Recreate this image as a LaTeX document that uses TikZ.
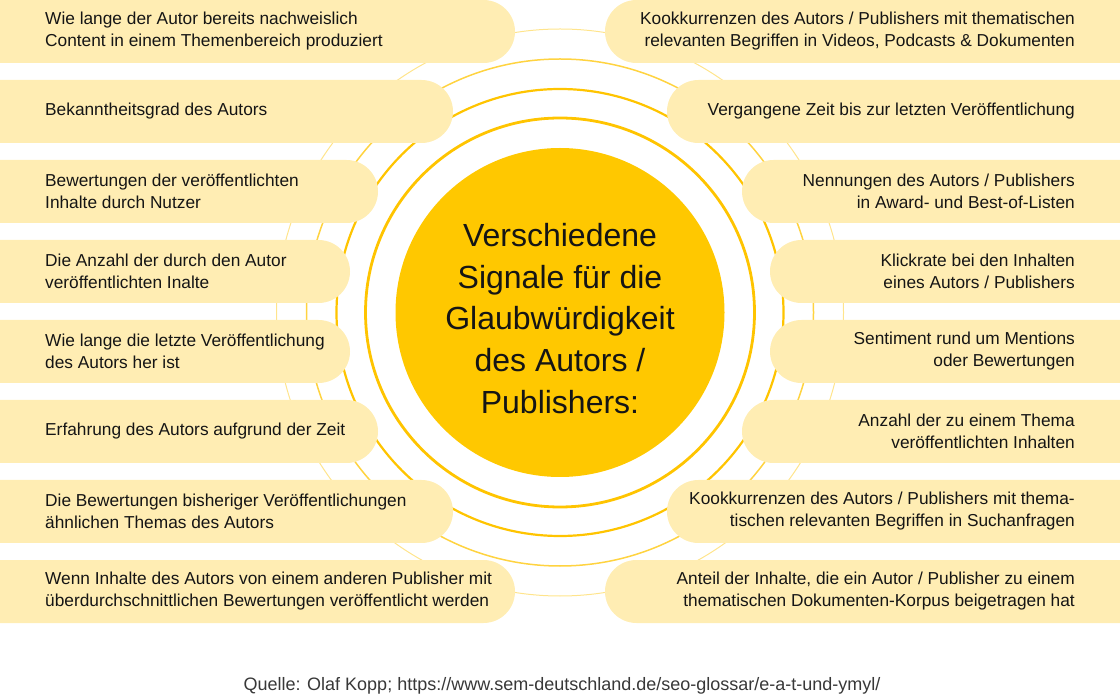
\documentclass[tikz,border=0pt]{standalone}
\usepackage{fontspec}
\setmainfont{Liberation Sans}
\definecolor{sun}{HTML}{FFC800}
\definecolor{pale}{HTML}{FFEDB3}
\definecolor{ray}{HTML}{FFC400}
\definecolor{ink}{HTML}{151515}
\tikzset{bar/.style = {fill=pale, rounded corners=31.5pt},
  ltxt/.style = {anchor=west, align=left, inner sep=0pt, text=ink,
    font=\fontsize{17.3}{22}\selectfont},
  rtxt/.style = {anchor=east, align=right, inner sep=0pt, text=ink,
    font=\fontsize{17.3}{22}\selectfont},
  ring/.style = {draw=ray}}

\begin{document}
\begin{tikzpicture}[x=1pt, y=-1pt]
  \useasboundingbox (0,0) rectangle (1120,700);
  \clip (0,0) rectangle (1120,700);
  % rings round the core
  \draw[ring, line width=1pt, draw opacity=.45] (560,312.5) circle (283.5pt);
  \draw[ring, line width=1.5pt, draw opacity=.75] (560,312.5) circle (253.5pt);
  \draw[ring, line width=2.2pt] (560,312.5) circle (223.5pt);
  \draw[ring, line width=2.8pt] (560,312.5) circle (194.5pt);
  \node[circle, fill=sun, minimum size=329pt, inner sep=0pt] (core) at (560,312.5) {};
  \node[align=center, inner sep=0pt, text=ink, font=\fontsize{32}{41.7}\selectfont]
    (title) at (560,318.5) {Verschiedene\\Signale für die\\Glaubwürdigkeit\\des Autors /\\Publishers:};
  % left column
  \foreach \i/\w/\txt in {1/515/{Wie lange der Autor bereits nachweislich\\Content in einem Themenbereich produziert},
      2/453/{Bekanntheitsgrad des Autors},
      3/378/{Bewertungen der veröffentlichten\\Inhalte durch Nutzer},
      4/350/{Die Anzahl der durch den Autor\\veröffentlichten Inalte},
      5/350/{Wie lange die letzte Veröffentlichung\\des Autors her ist},
      6/378/{Erfahrung des Autors aufgrund der Zeit},
      7/453/{Die Bewertungen bisheriger Veröffentlichungen\\ähnlichen Themas des Autors},
      8/515/{Wenn Inhalte des Autors von einem anderen Publisher mit\\überdurchschnittlichen Bewertungen veröffentlicht werden}} {
    \fill[bar] (-40,{(\i-1)*80}) rectangle (\w,{(\i-1)*80+63});
    \node[ltxt] (left\i) at (45,{(\i-1)*80+31.5}) {\txt};
  }
  % right column
  \foreach \i/\w/\txt in {1/515/{Kookkurrenzen des Autors / Publishers mit thematischen\\relevanten Begriffen in Videos, Podcasts \& Dokumenten},
      2/453/{Vergangene Zeit bis zur letzten Veröffentlichung},
      3/378/{Nennungen des Autors / Publishers\\in Award- und Best-of-Listen},
      4/350/{Klickrate bei den Inhalten\\eines Autors / Publishers},
      5/350/{Sentiment rund um Mentions\\oder Bewertungen},
      6/378/{Anzahl der zu einem Thema\\veröffentlichten Inhalten},
      7/453/{Kookkurrenzen des Autors / Publishers mit thema-\\tischen relevanten Begriffen in Suchanfragen},
      8/515/{Anteil der Inhalte, die ein Autor / Publisher zu einem\\thematischen Dokumenten-Korpus beigetragen hat}} {
    \fill[bar] ({1120-\w},{(\i-1)*80}) rectangle (1160,{(\i-1)*80+63});
    \node[rtxt] (right\i) at (1075,{(\i-1)*80+31.5}) {\txt};
  }
  \node[inner sep=0pt, text=ink!85, font=\fontsize{18}{20}\selectfont] (source) at (562,686)
    {Quelle: Olaf Kopp; https://www.sem-deutschland.de/seo-glossar/e-a-t-und-ymyl/};
\end{tikzpicture}
\end{document}
